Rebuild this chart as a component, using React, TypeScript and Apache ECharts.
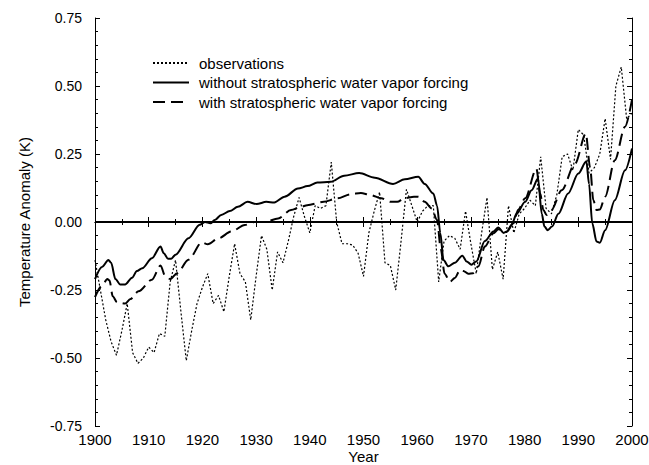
import React, { useEffect, useRef } from "react";
import * as echarts from "echarts";

const legendNames = [
  "observations",
  "without stratospheric water vapor forcing",
  "with stratospheric water vapor forcing",
];

const obsStartYear = 1900;
const obsValues = [
  -0.14, -0.25, -0.36, -0.44, -0.49, -0.4, -0.3, -0.48, -0.52, -0.5,
  -0.46, -0.48, -0.41, -0.42, -0.22, -0.14, -0.33, -0.51, -0.4, -0.3,
  -0.24, -0.19, -0.3, -0.27, -0.33, -0.2, -0.08, -0.19, -0.22, -0.36,
  -0.2, -0.05, -0.1, -0.25, -0.11, -0.15, -0.07, 0.02, 0.09, 0.02,
  -0.04, 0.06, 0.05, 0.06, 0.22, 0.0, -0.08, -0.08, -0.085, -0.115,
  -0.2, -0.04, 0.04, 0.11, -0.15, -0.16, -0.25, -0.07, 0.12, 0.06,
  0.0, 0.04, 0.06, 0.06, -0.22, -0.07, -0.05, -0.06, -0.1, 0.04,
  -0.08, -0.19, -0.04, 0.09, -0.175, -0.11, -0.21, 0.06, -0.04, 0.03,
  0.05, 0.08, 0.06, 0.24, 0.05, 0.03, 0.1, 0.24, 0.25, 0.19,
  0.34, 0.32, 0.18, 0.2, 0.25, 0.38, 0.23, 0.5, 0.57, 0.38,
  0.4,
];

const solidYears = [
  1900, 1901.3, 1902.5, 1903, 1903.8, 1904.7, 1905.6, 1906.9, 1907.8, 1908.8,
  1910.6, 1912.2, 1912.8, 1913.6, 1914.2, 1915, 1917.4, 1919.5, 1920.5, 1921.5,
  1922.3, 1923.5, 1925.1, 1926.6, 1928.4, 1930.1, 1931.9, 1933.4, 1935.3, 1937.8,
  1939.6, 1941.4, 1943.9, 1946.4, 1949.2, 1952.1, 1955.5, 1957.7, 1960.2, 1961.4,
  1963, 1963.7, 1964.3, 1964.9, 1965.8, 1967, 1968.4, 1969.2, 1970.1, 1971,
  1972.6, 1974.2, 1975.1, 1976.1, 1976.7, 1977.6, 1978.5, 1980.1, 1981.3, 1982.5,
  1983.2, 1983.7, 1984.3, 1985.1, 1986.3, 1988.1, 1990, 1991.5, 1992, 1992.6,
  1993.4, 1994, 1995, 1996.8, 1998.7, 2000,
];
const solidValues = [
  -0.21, -0.165, -0.14, -0.15, -0.21, -0.23, -0.23, -0.205, -0.18, -0.17,
  -0.133, -0.09, -0.115, -0.135, -0.135, -0.12, -0.06, -0.01, 0.0, -0.005,
  0.007, 0.026, 0.04, 0.056, 0.074, 0.066, 0.074, 0.072, 0.093, 0.123,
  0.132, 0.145, 0.148, 0.17, 0.18, 0.163, 0.14, 0.157, 0.166, 0.14,
  0.105, 0.06, -0.04, -0.14, -0.163, -0.15, -0.124, -0.145, -0.157, -0.145,
  -0.07, -0.035, -0.02, -0.04, -0.035, -0.01, 0.03, 0.074, 0.117, 0.16,
  0.03, -0.017, -0.03, -0.017, 0.03, 0.105, 0.178, 0.223, 0.14, -0.005,
  -0.072, -0.076, -0.03, 0.08, 0.19, 0.27,
];

const dashedYears = [
  1900, 1901.3, 1902.3, 1902.7, 1903.3, 1904.1, 1905.6, 1906.6, 1908.1, 1910.6,
  1912.2, 1913.1, 1914, 1915.3, 1917.4, 1919.9, 1921, 1923, 1925.4, 1927.9,
  1929.7, 1931.6, 1934.1, 1936.5, 1938.4, 1939.5, 1942.6, 1945.1, 1947.6, 1949.5,
  1951.3, 1953.3, 1955.1, 1956.3, 1957.6, 1959.4, 1960.2, 1961.4, 1962.7, 1963.7,
  1964.4, 1965.1, 1966.1, 1967, 1968, 1968.6, 1969.5, 1970.4, 1971.4, 1972.6,
  1974.2, 1975.1, 1976.7, 1977.9, 1978.8, 1980.1, 1982.2, 1982.9, 1983.5, 1984.1,
  1985, 1986.9, 1989.4, 1991.4, 1992.2, 1992.8, 1993.4, 1994, 1995, 1996.8,
  1998.7, 2000,
];
const dashedValues = [
  -0.276, -0.234, -0.21, -0.215, -0.273, -0.295, -0.3, -0.283, -0.255, -0.212,
  -0.16, -0.2, -0.21, -0.188, -0.139, -0.075, -0.082, -0.06, -0.035, -0.011,
  0.0, 0.0, 0.013, 0.044, 0.056, 0.062, 0.074, 0.087, 0.102, 0.107,
  0.099, 0.087, 0.074, 0.074, 0.087, 0.093, 0.093, 0.074, 0.05, 0.007,
  -0.1, -0.19, -0.22, -0.206, -0.176, -0.18, -0.19, -0.188, -0.163, -0.09,
  -0.041, -0.027, -0.035, -0.005, 0.045, 0.087, 0.196, 0.105, 0.044, 0.026,
  0.044, 0.117, 0.215, 0.325, 0.2, 0.08, 0.044, 0.046, 0.093, 0.227,
  0.35, 0.45,
];

const FONT = "Liberation Sans";

export default function App() {
  const ref = useRef<HTMLDivElement>(null);

  useEffect(() => {
    if (!ref.current) return;
    const chart = echarts.init(ref.current, undefined, { renderer: "svg" });

    const obsData = obsValues.map((v, i) => [obsStartYear + i, v]);
    const solidData = solidYears.map((y, i) => [y, solidValues[i]]);
    const dashedData = dashedYears.map((y, i) => [y, dashedValues[i]]);

    const tickCommon = {
      axisLine: { show: true, lineStyle: { color: "#000", width: 1 } },
      axisTick: { show: true, inside: true, length: 5, lineStyle: { color: "#000", width: 1 } },
      splitLine: { show: false },
    };

    chart.setOption({
      animation: false,
      backgroundColor: "#fff",
      textStyle: { fontFamily: FONT },
      grid: {
        left: 95,
        right: 17,
        top: 18,
        bottom: 39,
        containLabel: false,
        outerBoundsMode: "none",
      },
      legend: {
        orient: "vertical",
        left: 152,
        top: 55.5,
        padding: 0,
        itemWidth: 36,
        itemHeight: 14,
        itemGap: 4.5,
        data: legendNames,
        itemStyle: { opacity: 0, borderWidth: 0 },
        textStyle: { fontSize: 15, fontFamily: FONT, color: "#000", padding: [0, 0, 0, 5] },
      },
      xAxis: [
        {
          type: "value",
          min: 1900,
          max: 2000,
          interval: 10,
          position: "bottom",
          ...tickCommon,
          minorTick: { show: true, splitNumber: 2, length: 3, lineStyle: { color: "#000" } },
          axisLabel: {
            color: "#000",
            fontSize: 15,
            fontFamily: FONT,
            margin: 6,
            formatter: (v: number) => String(v),
          },
          name: "Year",
          nameLocation: "middle",
          nameGap: 22,
          nameMoveOverlap: false,
          nameTextStyle: { color: "#000", fontSize: 15, fontFamily: FONT, lineHeight: 16 },
        },
        {
          type: "value",
          min: 1900,
          max: 2000,
          interval: 10,
          position: "top",
          ...tickCommon,
          minorTick: { show: true, splitNumber: 2, length: 3, lineStyle: { color: "#000" } },
          axisLabel: { show: false },
        },
      ],
      yAxis: [
        {
          type: "value",
          min: -0.75,
          max: 0.75,
          interval: 0.25,
          position: "left",
          ...tickCommon,
          minorTick: { show: true, splitNumber: 5, length: 3, lineStyle: { color: "#000" } },
          axisLabel: {
            color: "#000",
            fontSize: 14,
            fontFamily: FONT,
            margin: 13,
            formatter: (v: number) => v.toFixed(2),
          },
          name: "Temperature Anomaly (K)",
          nameLocation: "middle",
          nameRotate: 90,
          nameGap: 63,
          nameMoveOverlap: false,
          nameTextStyle: { color: "#000", fontSize: 15, fontFamily: FONT },
        },
        {
          type: "value",
          min: -0.75,
          max: 0.75,
          interval: 0.25,
          position: "right",
          ...tickCommon,
          minorTick: { show: true, splitNumber: 5, length: 3, lineStyle: { color: "#000" } },
          axisLabel: { show: false },
        },
      ],
      series: [
        {
          name: legendNames[0],
          type: "line",
          xAxisIndex: 0,
          yAxisIndex: 0,
          data: obsData,
          symbol: "none",
          showSymbol: false,
          itemStyle: { color: "#000" },
          lineStyle: { color: "#000", width: 1.2, type: [2, 2] },
          markLine: {
            silent: true,
            symbol: ["none", "none"],
            label: { show: false },
            lineStyle: { color: "#000", width: 2, type: "solid" },
            data: [{ yAxis: 0 }],
          },
          z: 2,
        },
        {
          name: legendNames[1],
          type: "line",
          xAxisIndex: 0,
          yAxisIndex: 0,
          data: solidData,
          symbol: "none",
          showSymbol: false,
          smooth: 0.3,
          smoothMonotone: "x",
          itemStyle: { color: "#000" },
          lineStyle: { color: "#000", width: 2, type: "solid" },
          z: 3,
        },
        {
          name: legendNames[2],
          type: "line",
          xAxisIndex: 0,
          yAxisIndex: 0,
          data: dashedData,
          symbol: "none",
          showSymbol: false,
          smooth: 0.3,
          smoothMonotone: "x",
          itemStyle: { color: "#000" },
          lineStyle: { color: "#000", width: 2, type: [12, 6] },
          z: 3,
        },
      ],
    });

    return () => {
      chart.dispose();
    };
  }, []);

  return (
    <div
      ref={ref}
      style={{ position: "absolute", left: 0, top: 0, width: 649, height: 465, background: "#fff" }}
    />
  );
}
